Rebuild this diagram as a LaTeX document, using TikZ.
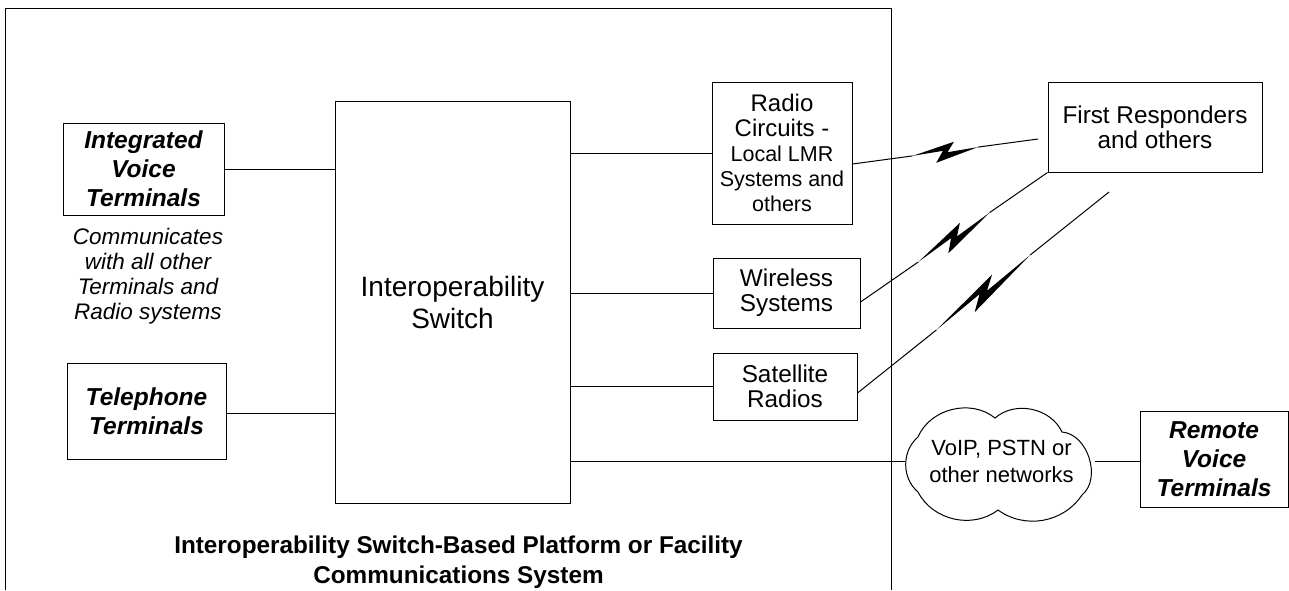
\documentclass[tikz,border=0pt]{standalone}
\usepackage{fontspec}
\setmainfont{Liberation Sans}
\usetikzlibrary{calc}

\newcommand\fsz[2]{\fontsize{#1}{#2}\selectfont}

\tikzset{
  box/.style={draw, line width=1pt, inner sep=0pt, align=center},
  link/.style={line width=1pt},
  termlbl/.style={font=\fsz{24.5}{29}\bfseries\itshape},
  plainlbl/.style={font=\fsz{24.3}{25}},
  notelbl/.style={align=center, inner sep=0pt, font=\fsz{22.5}{25}\itshape},
  frame/.style={line width=1pt},
}

% Radio link: thin line with a zig-zag lightning bolt at its middle
\newcommand\radiolink[3]{%
  \pgfmathanglebetweenpoints{\pgfpointanchor{#1}{center}}{\pgfpointanchor{#2}{center}}%
  \edef\boltangle{\pgfmathresult}%
  \begin{scope}[shift={($(#1)!0.5!(#2)$)}, rotate=\boltangle, xscale=#3]
    \draw[link] (#1) -- (-30pt,0pt);
    \draw[link] (30pt,0pt) -- (#2);
    \fill (-30pt,0pt) -- (9pt,8.5pt) -- (2pt,-1pt) -- (30pt,0pt)
          -- (-9.5pt,-10pt) -- (-2pt,1pt) -- cycle;
  \end{scope}}

\begin{document}
\begin{tikzpicture}[x=1pt, y=-1pt]
  \useasboundingbox (0,0) rectangle (1289,590);

  % facility boundary (open at the bottom)
  \draw[frame] (5,590) -- (5,8) -- (891,8) -- (891,590);

  % terminals on the left
  \node[box, termlbl, minimum width=161pt, minimum height=92pt] (ivt) at (143.5,169)
    {Integrated\\Voice\\Terminals};
  \node[notelbl] (note) at (148,276)
    {Communicates\\with all other\\Terminals and\\Radio systems};
  \node[box, termlbl, minimum width=159pt, minimum height=96pt] (tel) at (146.5,411)
    {Telephone\\Terminals};

  % the switch
  \node[box, font=\fsz{28}{32}, minimum width=235pt, minimum height=402pt] (sw) at (452.5,302)
    {Interoperability\\Switch};

  % radio systems
  \node[box, font=\fsz{24}{25}, minimum width=140pt, minimum height=142pt] (radio) at (782,153)
    {Radio\\Circuits -\\{\fsz{21.5}{25}Local LMR}\\{\fsz{21.5}{25}Systems and}\\{\fsz{21.5}{25}others}};
  \node[box, plainlbl, minimum width=147pt, minimum height=70pt] (wl) at (786.5,293)
    {Wireless\\Systems};
  \node[box, plainlbl, minimum width=144pt, minimum height=67pt] (sat) at (785,386.5)
    {Satellite\\Radios};

  % outside world
  \node[box, plainlbl, minimum width=214pt, minimum height=90pt] (fr) at (1155,127)
    {First Responders\\and others};
  \node[align=center, inner sep=0pt, font=\fsz{22}{27}] (net) at (1001.5,461)
    {VoIP, PSTN or\\other networks};
  \node[box, termlbl, minimum width=148pt, minimum height=96pt] (rvt) at (1214,459)
    {Remote\\Voice\\Terminals};

  % network cloud round the network label
  \begin{scope}[shift={(1000,464)}]
    \draw[line width=1pt]
      (-82,-27) to[bend left=53] (-5,-46)
                to[bend left=53] (62,-32)
                to[bend left=68] (82,31)
                to[bend left=46] (-2,46)
                to[bend left=50] (-82,28)
                to[bend left=50] cycle;
    \coordinate (netW) at (-95,-3);
    \coordinate (netE) at (95,-3);
  \end{scope}

  % caption
  \node[align=center, inner sep=0pt, font=\fsz{24.3}{30}\bfseries] (cap) at (458.5,562)
    {Interoperability Switch-Based Platform or Facility\\Communications System};

  % wired connections
  \coordinate (telport) at ([yshift=-2pt]tel.east);
  \draw[link] (ivt.east) -- (sw.west |- ivt.east);
  \draw[link] (telport) -- (sw.west |- telport);
  \draw[link] (sw.east |- radio.west) -- (radio.west);
  \draw[link] (sw.east |- wl.west) -- (wl.west);
  \draw[link] (sw.east |- sat.west) -- (sat.west);
  \draw[link] (sw.east |- netW) -- (netW);
  \draw[link] (netE) -- (rvt.west |- netE);

  % radio links
  \coordinate (b1s) at ([yshift=-11pt]radio.east);
  \coordinate (b1e) at (1038,139);
  \coordinate (b2s) at ([yshift=-9pt]wl.east);
  \coordinate (b2e) at (fr.south west);
  \coordinate (b3s) at ([yshift=-6.5pt]sat.east);
  \coordinate (b3e) at (1109,192);
  \radiolink{b1s}{b1e}{1.1}
  \radiolink{b2s}{b2e}{1.45}
  \radiolink{b3s}{b3e}{2.0}
\end{tikzpicture}
\end{document}
